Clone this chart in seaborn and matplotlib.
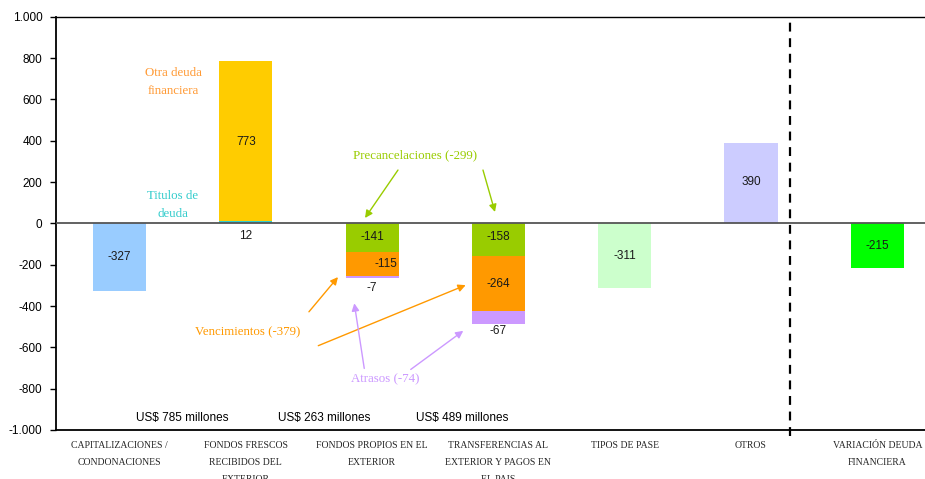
import matplotlib
matplotlib.use("Agg")
import matplotlib.pyplot as plt
import matplotlib.ticker as mticker
import numpy as np
import pandas as pd
import seaborn as sns

# ---- data (US$ millones) ----
categories = [
    "CAPITALIZACIONES /\nCONDONACIONES",
    "FONDOS FRESCOS\nRECIBIDOS DEL\nEXTERIOR",
    "FONDOS PROPIOS EN EL\nEXTERIOR",
    "TRANSFERENCIAS AL\nEXTERIOR Y PAGOS EN\nEL PAIS",
    "TIPOS DE PASE",
    "OTROS",
    "VARIACIÓN DEUDA\nFINANCIERA",
]
# stacked segments, from the zero line outwards
segment_1 = [-327, 12, -141, -158, -311, 390, -215]
segment_2 = [0, 773, -115, -264, 0, 0, 0]
segment_3 = [0, 0, -7, -67, 0, 0, 0]

colors_1 = ["#99CCFF", "#33CCCC", "#99CC00", "#99CC00", "#CCFFCC", "#CCCCFF", "#00FF00"]
colors_2 = ["#FFFFFF", "#FFCC00", "#FF9900", "#FF9900", "#FFFFFF", "#FFFFFF", "#FFFFFF"]
colors_3 = ["#FFFFFF", "#FFFFFF", "#CC99FF", "#CC99FF", "#FFFFFF", "#FFFFFF", "#FFFFFF"]

totals_text = ["US$ 785 millones", "US$ 263 millones", "US$ 489 millones"]
yticks = [-1000, -800, -600, -400, -200, 0, 200, 400, 600, 800, 1000]

# ---- figure ----
sns.set_theme(style="white")
plt.rcParams["font.family"] = ["Liberation Sans", "DejaVu Sans"]

fig = plt.figure(figsize=(9.25, 4.79), dpi=100)
ax = fig.add_axes([0.0609, 0.1023, 0.9558, 0.8628])

s1 = np.array(segment_1, dtype=float)
s2 = np.array(segment_2, dtype=float)
s3 = np.array(segment_3, dtype=float)
cum1 = s1
cum2 = s1 + s2
cum3 = s1 + s2 + s3

keys = [f"c{i}" for i in range(len(categories))]
BAR_W = 0.42

# draw outermost cumulative layer first, inner layers on top
for cum, cols in [(cum3, colors_3), (cum2, colors_2), (cum1, colors_1)]:
    df = pd.DataFrame({"cat": keys, "val": cum})
    sns.barplot(data=df, x="cat", y="val", hue="cat", order=keys, hue_order=keys,
                palette=dict(zip(keys, cols)), legend=False, width=BAR_W,
                saturation=1, linewidth=0, errorbar=None, ax=ax, zorder=2)

ax.set_xlim(-0.5, len(categories) - 0.5)
ax.set_ylim(-1000, 1000)
ax.set_xlabel("")
ax.set_ylabel("")

# axes styling
ax.set_yticks(yticks)
ax.yaxis.set_major_formatter(mticker.FuncFormatter(lambda v, p: f"{v:,.0f}".replace(",", ".")))
ax.tick_params(axis="y", length=4, width=1, direction="out", pad=6, labelsize=8.5,
               colors="black", left=True)
ax.set_xticks(range(len(categories)))
ax.set_xticklabels(categories, family="Liberation Serif", fontsize=7.0, linespacing=2.15)
ax.tick_params(axis="x", length=0, pad=8)
for side in ["left", "bottom", "top", "right"]:
    ax.spines[side].set_color("black")
    ax.spines[side].set_linewidth(1.0)
ax.spines["left"].set_linewidth(1.3)
ax.spines["bottom"].set_linewidth(1.3)

ax.axhline(0, color="#555555", lw=1.3, zorder=3)
ax.axvline(5.31, ymin=-0.015, ymax=1, color="black", lw=1.6, ls=(0, (4, 3)),
           clip_on=False, zorder=3)

# value labels
def vlabel(x, y, s, **kw):
    ax.text(x, y, s, ha="center", va="center", fontsize=8.5, color="#1a1a1a", zorder=4, **kw)

vlabel(0, -165, "-327")
vlabel(1, 395, "773")
vlabel(1, -62, "12")
vlabel(2, -66, "-141")
vlabel(2.107, -197, "-115")
vlabel(2, -313, "-7")
vlabel(3, -64, "-158")
vlabel(3, -292, "-264")
vlabel(3, -520, "-67")
vlabel(4, -157, "-311")
vlabel(5, 200, "390")
vlabel(6, -108, "-215")

for x, s in zip([0.499, 1.623, 2.716], totals_text):
    ax.text(x, -942, s, ha="center", va="center", fontsize=8.5, color="black")

# series annotations
serif = dict(family="Liberation Serif", fontsize=9.3, ha="center", va="center", linespacing=1.7)
ax.text(0.424, 684, "Otra deuda\nfinanciera", color="#FF9933", **serif)
ax.text(0.424, 88, "Titulos de\ndeuda", color="#33CCCC", **serif)
ax.text(2.34, 330, "Precancelaciones (-299)", color="#99CC00", **serif)
ax.text(1.013, -525, "Vencimientos (-379)", color="#FF9900", **serif)
ax.text(2.102, -755, "Atrasos (-74)", color="#CC99FF", **serif)

def arrow(tail, head, color):
    ax.annotate("", xy=head, xytext=tail,
                arrowprops=dict(arrowstyle="-|>", color=color, lw=1.0,
                                mutation_scale=11, shrinkA=0, shrinkB=0), zorder=4)

arrow((2.205, 258), (1.944, 26), "#99CC00")
arrow((2.878, 258), (2.973, 55), "#99CC00")
arrow((1.50, -428), (1.730, -260), "#FF9900")
arrow((1.574, -592), (2.741, -299), "#FF9900")
arrow((1.938, -702), (1.859, -387), "#CC99FF")
arrow((2.306, -707), (2.722, -520), "#CC99FF")

fig.savefig("out.png", dpi=100)
